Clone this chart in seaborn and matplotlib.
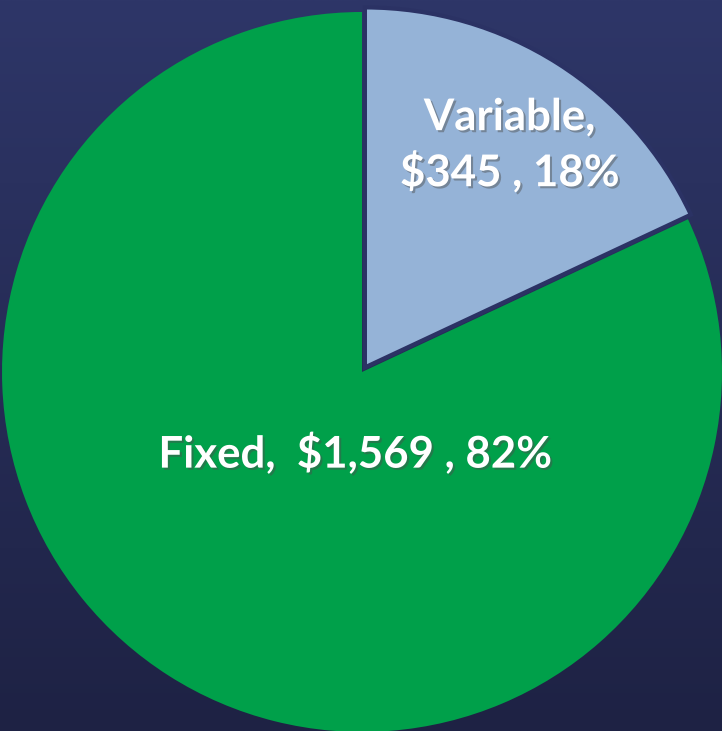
import numpy as np
import seaborn as sns
import matplotlib.pyplot as plt
import matplotlib.patheffects as pe

names = ["Variable", "Fixed"]
values = [345, 1569]
percents = [18, 82]

sns.set_theme(style="white")
plt.rcParams['font.family'] = ['Lato', 'DejaVu Sans']

fig = plt.figure(figsize=(7.22, 7.31), dpi=100)

# background gradient
bg = fig.add_axes([0, 0, 1, 1], zorder=0)
top = np.array([46, 54, 104]) / 255
bottom = np.array([30, 34, 68]) / 255
t = np.linspace(0, 1, 256)[:, None]
grad = top[None, :] * (1 - t) + bottom[None, :] * t
bg.imshow(grad[:, None, :].repeat(2, axis=1), aspect='auto', extent=[0, 1, 0, 1])
bg.axis('off')

ax = fig.add_axes([0, 0, 1, 1], zorder=1)
ax.patch.set_alpha(0)
colors = ["#95B3D7", "#00A04A"]
wedges, _ = ax.pie(values, colors=colors, startangle=90, counterclock=False,
                   explode=[0.015, 0], radius=1.0)
wedges[0].set_edgecolor("#2B3264")
wedges[0].set_linewidth(3)
wedges[1].set_linewidth(0)
ax.set_xlim(-1.0056, 1.0)
ax.set_ylim(-0.997, 1.033)
ax.set_aspect('equal')
ax.axis('off')

shadow = [pe.SimplePatchShadow(offset=(1.5, -1.5), alpha=0.45), pe.Normal()]
ax.text(0.41, 0.63, f"{names[0]},\n${values[0]:,} , {percents[0]}%",
        ha='center', va='center', color='white', fontsize=31.5, fontweight='bold',
        linespacing=1.35, path_effects=shadow)
ax.text(-0.019, -0.225, f"{names[1]},  ${values[1]:,} , {percents[1]}%",
        ha='center', va='center', color='white', fontsize=31.5, fontweight='bold',
        path_effects=shadow)

fig.savefig("out.png", dpi=100)
